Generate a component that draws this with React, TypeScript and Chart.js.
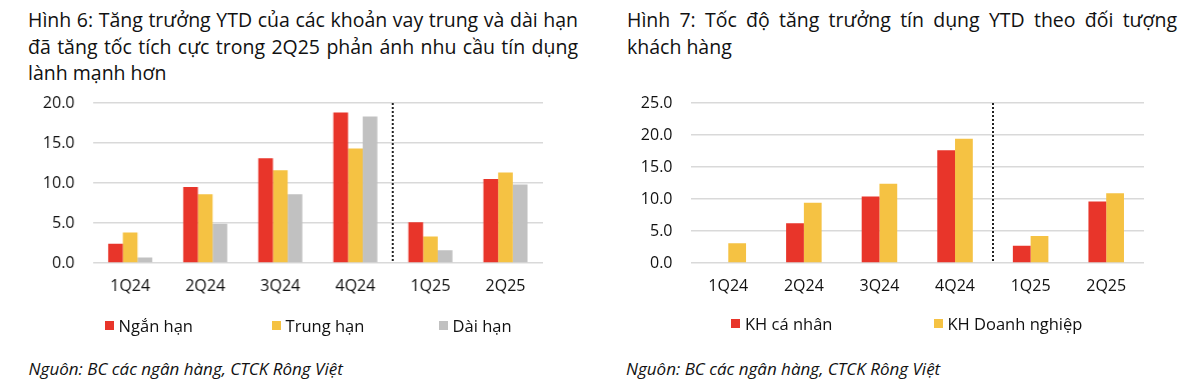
import React, { useEffect, useRef } from "react";
import { Chart, registerables } from "chart.js";

Chart.register(...registerables);

// ---------- data ----------
const quarters = ["1Q24", "2Q24", "3Q24", "4Q24", "1Q25", "2Q25"];

const nganHan = [2.4, 9.5, 13.1, 18.8, 5.1, 10.5];
const trungHan = [3.8, 8.6, 11.6, 14.3, 3.3, 11.3];
const daiHan = [0.7, 4.9, 8.6, 18.3, 1.6, 9.8];

const khCaNhan = [0.1, 6.2, 10.4, 17.6, 2.7, 9.6];
const khDoanhNghiep = [3.1, 9.4, 12.4, 19.4, 4.2, 10.9];

const leftTitleLines = [
  "Hình 6: Tăng trưởng YTD của các khoản vay trung và dài hạn",
  "đã tăng tốc tích cực trong 2Q25 phản ánh nhu cầu tín dụng",
  "lành mạnh hơn",
];
const rightTitleLines = [
  "Hình 7: Tốc độ tăng trưởng tín dụng YTD theo đối tượng",
  "khách hàng",
];
const sourceText = "Nguôn: BC các ngân hàng, CTCK Rông Việt";

const RED = "#E8352A";
const YELLOW = "#F5C243";
const GRAY = "#C1C1C1";
const TEXT = "#111111";
const FONT = "'Open Sans', 'Noto Sans', sans-serif";

type Series = { label: string; data: number[]; color: string };

const leftSeries: Series[] = [
  { label: "Ngắn hạn", data: nganHan, color: RED },
  { label: "Trung hạn", data: trungHan, color: YELLOW },
  { label: "Dài hạn", data: daiHan, color: GRAY },
];
const rightSeries: Series[] = [
  { label: "KH cá nhân", data: khCaNhan, color: RED },
  { label: "KH Doanh nghiệp", data: khDoanhNghiep, color: YELLOW },
];

// dotted separator between 4Q24 and 1Q25
const separatorPlugin = {
  id: "separator",
  afterDatasetsDraw(chart: any) {
    const x = chart.scales.x;
    const area = chart.chartArea;
    const px = (x.getPixelForValue(3) + x.getPixelForValue(4)) / 2;
    const ctx = chart.ctx;
    ctx.save();
    ctx.strokeStyle = "#222";
    ctx.lineWidth = 2;
    ctx.setLineDash([2, 2]);
    ctx.beginPath();
    ctx.moveTo(Math.round(px), area.top);
    ctx.lineTo(Math.round(px), area.bottom);
    ctx.stroke();
    ctx.restore();
  },
};

const PAD_TOP = 30;
const X_HEIGHT = 60;
const PLOT_HEIGHT = 160;

function BarChart(props: {
  series: Series[];
  max: number;
  catPct: number;
  yWidth: number;
  width: number;
}) {
  const ref = useRef<HTMLCanvasElement | null>(null);
  const height = PAD_TOP + PLOT_HEIGHT + X_HEIGHT;
  useEffect(() => {
    if (!ref.current) return;
    const chart = new Chart(ref.current, {
      type: "bar",
      data: {
        labels: quarters,
        datasets: props.series.map((s) => ({
          label: s.label,
          data: s.data,
          backgroundColor: s.color,
          borderWidth: 0,
          categoryPercentage: props.catPct,
          barPercentage: 1,
        })),
      },
      options: {
        animation: false,
        responsive: false,
        devicePixelRatio: 1,
        layout: { padding: { top: PAD_TOP, right: 10, bottom: 0, left: 0 } },
        plugins: {
          legend: { display: false },
          tooltip: { enabled: false },
          title: { display: false },
        },
        scales: {
          x: {
            grid: { display: false, drawTicks: false },
            border: { display: false },
            ticks: {
              color: TEXT,
              font: { family: FONT, size: 16 },
              padding: 14,
              maxRotation: 0,
            },
            afterFit: (s: any) => {
              s.height = X_HEIGHT;
            },
          },
          y: {
            min: 0,
            max: props.max,
            grid: { color: "#D9D9D9", lineWidth: 1.5, drawTicks: false },
            border: { display: false },
            ticks: {
              stepSize: 5,
              color: TEXT,
              font: { family: FONT, size: 16 },
              padding: 18,
              callback: (v: any) => Number(v).toFixed(1),
            },
            afterFit: (s: any) => {
              s.width = props.yWidth;
            },
          },
        },
      },
      plugins: [separatorPlugin],
    } as any);
    return () => chart.destroy();
  }, []);
  return (
    <canvas
      ref={ref}
      width={props.width}
      height={height}
      style={{ width: props.width, height, display: "block" }}
    />
  );
}

function Legend(props: { series: Series[]; slot: number }) {
  return (
    <div style={{ display: "flex", alignItems: "center" }}>
      {props.series.map((s) => (
        <div
          key={s.label}
          style={{ width: props.slot, display: "flex", alignItems: "center" }}
        >
          <span
            style={{
              width: 9,
              height: 9,
              background: s.color,
              display: "inline-block",
              marginRight: 5,
            }}
          />
          <span style={{ fontFamily: FONT, fontSize: 16.5, color: TEXT }}>{s.label}</span>
        </div>
      ))}
    </div>
  );
}

function Title(props: { lines: string[]; justifyCount: number }) {
  return (
    <div style={{ width: 550 }}>
      {props.lines.map((l, i) => (
        <div
          key={i}
          style={{
            fontFamily: FONT,
            fontSize: 19.5,
            lineHeight: "26.5px",
            color: TEXT,
            textAlign: "justify",
            textAlignLast: i < props.justifyCount ? "justify" : "left",
          }}
        >
          {l}
        </div>
      ))}
    </div>
  );
}

export default function App() {
  useEffect(() => {
    document.body.style.margin = "0";
  }, []);
  const abs = (left: number, top: number): React.CSSProperties => ({
    position: "absolute",
    left,
    top,
  });
  const chartTop = 103.3 - PAD_TOP;
  const sourceStyle: React.CSSProperties = {
    fontFamily: FONT,
    fontStyle: "italic",
    fontSize: 17,
    color: TEXT,
    whiteSpace: "nowrap",
  };
  return (
    <div
      style={{
        position: "relative",
        width: 1200,
        height: 385,
        background: "#fff",
        overflow: "hidden",
      }}
    >
      <div style={abs(28, 7)}>
        <Title lines={leftTitleLines} justifyCount={2} />
      </div>
      <div style={abs(627, 7)}>
        <Title lines={rightTitleLines} justifyCount={1} />
      </div>

      <div style={abs(0, chartTop)}>
        <BarChart series={leftSeries} max={20} catPct={0.587} yWidth={92.5} width={552.5} />
      </div>
      <div style={abs(600, chartTop)}>
        <BarChart series={rightSeries} max={25} catPct={0.47} yWidth={90.5} width={554} />
      </div>

      <div style={abs(104.6, 313.5)}>
        <Legend series={leftSeries} slot={167} />
      </div>
      <div style={abs(731, 311.5)}>
        <Legend series={rightSeries} slot={202.5} />
      </div>

      <div style={{ ...abs(28.6, 357), ...sourceStyle }}>{sourceText}</div>
      <div style={{ ...abs(626, 357), ...sourceStyle }}>{sourceText}</div>
    </div>
  );
}
